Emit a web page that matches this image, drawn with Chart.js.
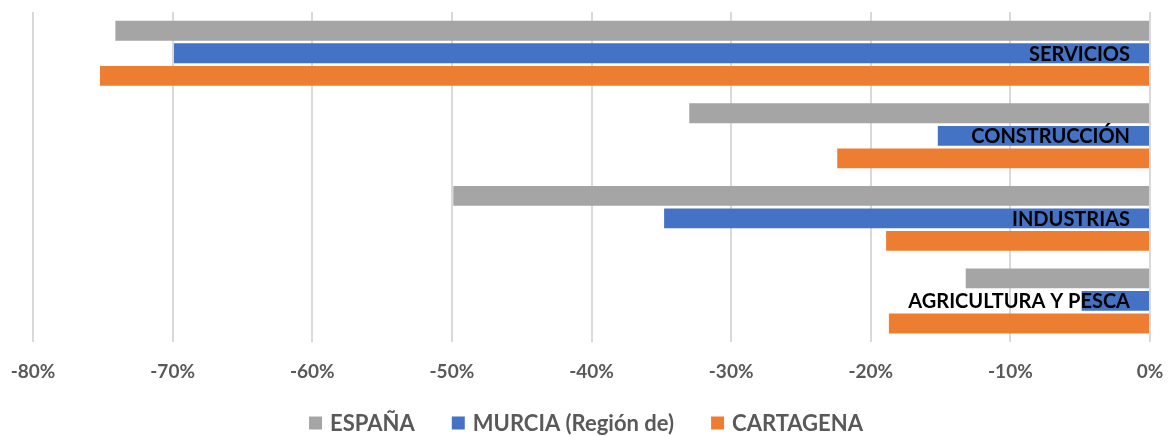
<!DOCTYPE html>
<html>
<head>
<meta charset="utf-8">
<script src="https://cdn.jsdelivr.net/npm/chart.js@4/dist/chart.umd.min.js"></script>
<style>
    html, body { margin: 0; padding: 0; background: #fff; }
    #wrap { width: 1172px; height: 436px; }
</style>
</head>
<body>
<div id="wrap"><canvas id="sectorChart" width="1172" height="436"></canvas></div>
<script>
// Sectores (de arriba a abajo)
const categories = ['SERVICIOS', 'CONSTRUCCIÓN', 'INDUSTRIAS', 'AGRICULTURA Y PESCA'];

// Variación (%) por sector
const espana    = [-74.1, -33.0, -49.9, -13.2];
const murcia    = [-69.9, -15.2, -34.8, -4.9];
const cartagena = [-75.2, -22.4, -18.9, -18.7];

const seriesNames = ['ESPAÑA', 'MURCIA (Región de)', 'CARTAGENA'];

// Category names drawn inside the plot, right aligned on the middle bar
const sectorLabels = {
    id: 'sectorLabels',
    afterDatasetsDraw(chart) {
        const ctx = chart.ctx;
        const meta = chart.getDatasetMeta(1);
        const right = chart.chartArea.right - 20;
        ctx.save();
        ctx.font = 'bold 20px Lato';
        ctx.fillStyle = '#000';
        ctx.textAlign = 'right';
        ctx.textBaseline = 'middle';
        meta.data.forEach((bar, i) => {
            ctx.fillText(categories[i], right, bar.y + 1);
        });
        ctx.restore();
    }
};

// Legend at the bottom (Excel style spacing)
const bottomLegend = {
    id: 'bottomLegend',
    afterDraw(chart) {
        const ctx = chart.ctx;
        const box = 13, gap = 8, spacing = 37, y = 423;
        ctx.save();
        ctx.font = 'bold 22px Lato';
        ctx.textBaseline = 'middle';
        const items = chart.data.datasets.map(ds => ({
            text: ds.label, color: ds.backgroundColor, w: ctx.measureText(ds.label).width
        }));
        let total = items.reduce((s, it) => s + box + gap + it.w, 0) + spacing * (items.length - 1);
        let x = chart.width / 2 - total / 2;
        items.forEach(it => {
            ctx.fillStyle = it.color;
            ctx.fillRect(x, y - box / 2, box, box);
            ctx.fillStyle = '#595959';
            ctx.fillText(it.text, x + box + gap, y + 1);
            x += box + gap + it.w + spacing;
        });
        ctx.restore();
    }
};

const ctx = document.getElementById('sectorChart').getContext('2d');
new Chart(ctx, {
    type: 'bar',
    data: {
        labels: categories,
        datasets: [
            { label: seriesNames[0], data: espana,    backgroundColor: '#A5A5A5' },
            { label: seriesNames[1], data: murcia,    backgroundColor: '#4472C4' },
            { label: seriesNames[2], data: cartagena, backgroundColor: '#ED7D31' }
        ]
    },
    options: {
        indexAxis: 'y',
        responsive: false,
        animation: false,
        devicePixelRatio: 1,
        categoryPercentage: 0.82,
        barPercentage: 0.88,
        layout: { padding: { top: 12, left: 0, right: 0, bottom: 35 } },
        plugins: {
            tooltip: { enabled: false },
            legend: { display: false }
        },
        scales: {
            x: {
                min: -80,
                max: 0,
                grid: { color: '#D9D9D9', lineWidth: 2, drawTicks: false },
                border: { display: false },
                ticks: {
                    stepSize: 10,
                    padding: 18,
                    color: '#595959',
                    font: { family: 'Lato', size: 19, weight: 'bold' },
                    callback: function(value) { return value + '%'; }
                },
                afterFit: function(scale) {
                    scale.paddingLeft = 33;
                    scale.paddingRight = 22;
                }
            },
            y: {
                display: false
            }
        }
    },
    plugins: [sectorLabels, bottomLegend]
});
</script>
</body>
</html>
